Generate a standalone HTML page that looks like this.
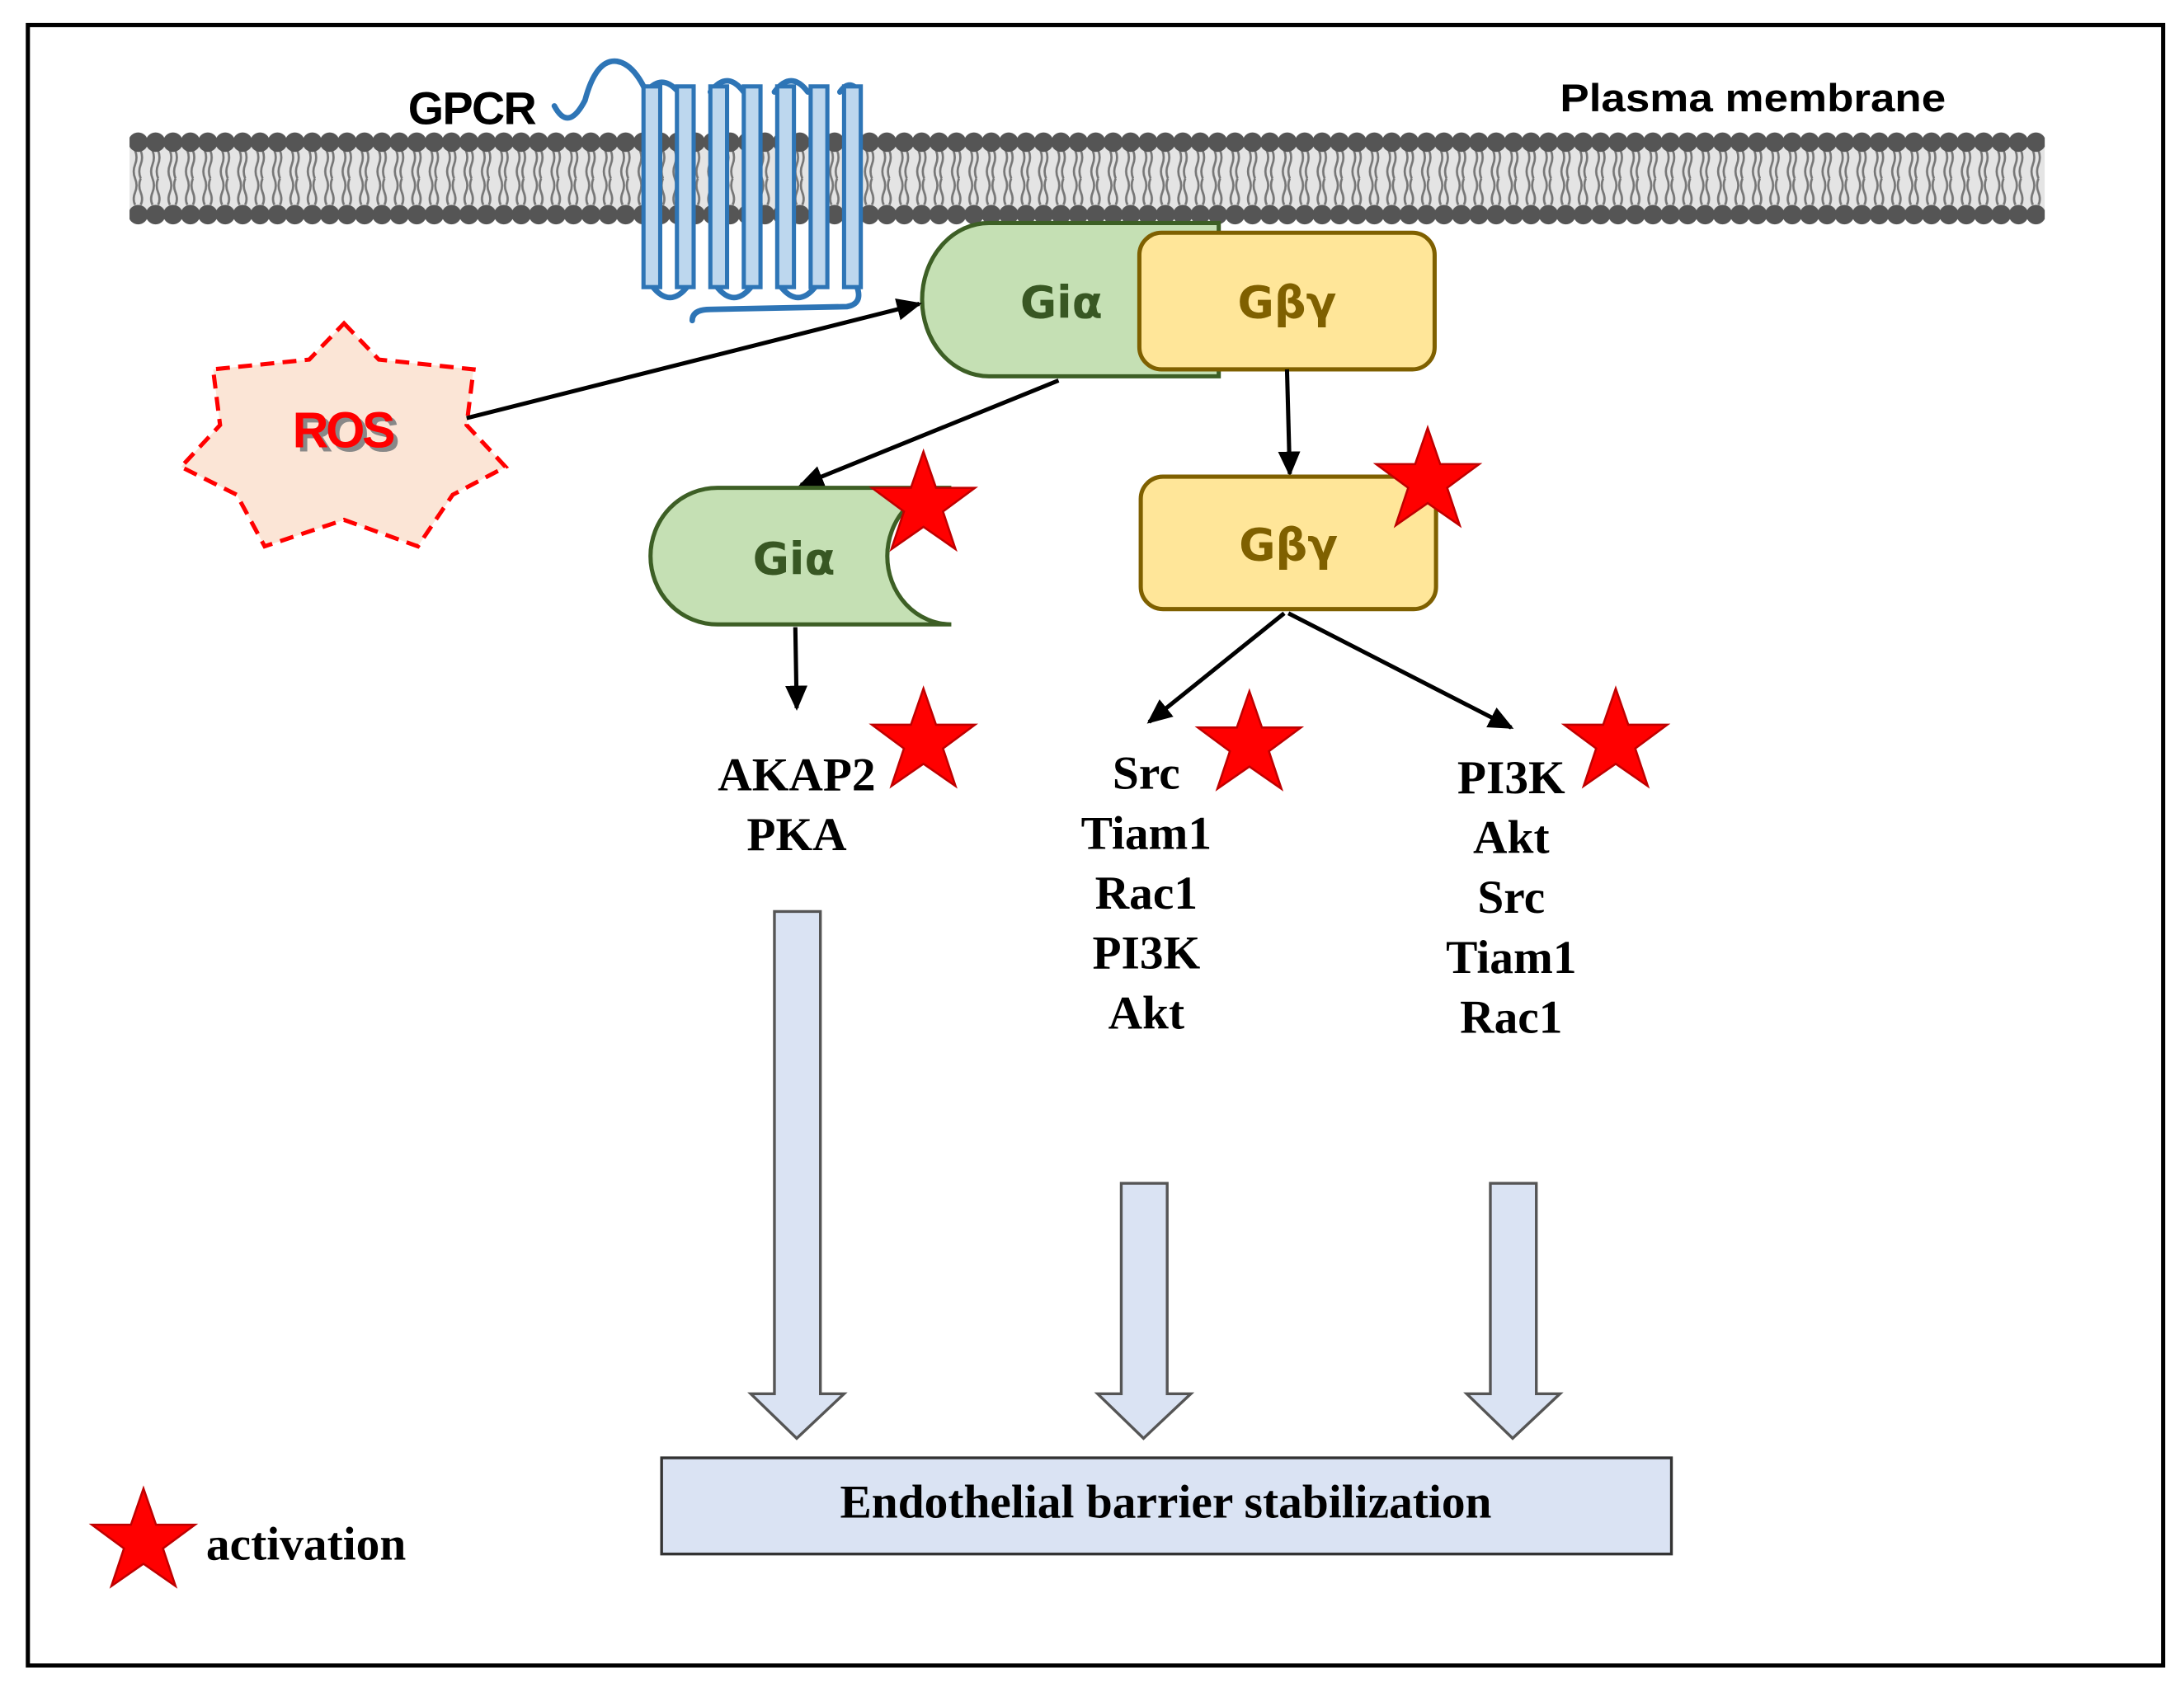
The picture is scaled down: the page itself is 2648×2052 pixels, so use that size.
<!DOCTYPE html>
<html><head><meta charset="utf-8"><style>html,body{margin:0;padding:0;background:#fff}svg{display:block}</style></head>
<body>
<svg width="2648" height="2052" viewBox="0 0 1568 1214" preserveAspectRatio="none" xmlns="http://www.w3.org/2000/svg">
<defs>
<pattern id="lip" x="93" y="0" width="12.5" height="1214" patternUnits="userSpaceOnUse">
<path d="M4,108 q2,5 0,10 q-2,5 0,10 M8,108 q2,5 0,10 q-2,5 0,10 M4,128 q2,5 0,10 q-2,5 0,9 M8,128 q-2,5 0,10 q2,5 0,9" stroke="#777" stroke-width="1.6" fill="none"/>
<circle cx="6.2" cy="102" r="7" fill="#555"/>
<circle cx="6.2" cy="154" r="7" fill="#555"/>
</pattern>
<marker id="ah2" markerWidth="18" markerHeight="18" refX="16" refY="9" orient="auto" markerUnits="userSpaceOnUse" viewBox="0 0 18 18">
<path d="M0,1 L18,9 L0,17 Z" fill="#000"/></marker>
<polygon id="star" points="0,-38 9,-12 37,-12 14,5 23,32 0,16 -23,32 -14,5 -37,-12 -9,-12" fill="#ff0000" stroke="#c00000" stroke-width="1.5"/>
</defs>
<rect x="20" y="18" width="1533" height="1177" fill="#fff" stroke="#000" stroke-width="3"/>
<rect x="93" y="100" width="1375" height="56" fill="#e4e4e4"/>
<rect x="93" y="94" width="1375" height="68" fill="url(#lip)"/>
<text x="1120" y="80" font-family="Liberation Sans, sans-serif" font-weight="bold" font-size="28" textLength="277" lengthAdjust="spacingAndGlyphs">Plasma membrane</text>
<text x="293" y="89" font-family="Liberation Sans, sans-serif" font-size="33" font-weight="bold" letter-spacing="-1">GPCR</text>
<g stroke="#2e75b6" stroke-width="4" fill="none" stroke-linecap="round">
<path d="M398,76 Q408,95 420,72 Q428,42 443,44 Q455,46 464,66"/>
<path d="M464,66 Q475,52 487,66 M510,66 Q522,50 534,66 M556,66 Q568,50 580,66 M603,66 Q610,56 617,66"/>
<path d="M468,205 Q481,222 494,205 M514,205 Q527,222 540,205 M560,205 Q573,222 586,205"/>
<path d="M615,205 Q620,218 608,220 L510,222 Q497,222 497,230"/>
</g>
<g fill="#bdd7ee" stroke="#2e75b6" stroke-width="3">
<rect x="462" y="62" width="12" height="144"/><rect x="486" y="62" width="12" height="144"/>
<rect x="510" y="62" width="12" height="144"/><rect x="534" y="62" width="12" height="144"/>
<rect x="558" y="62" width="12" height="144"/><rect x="582" y="62" width="12" height="144"/>
<rect x="606" y="62" width="12" height="144"/>
</g>
<polygon points="247,232 272,258 340,265 335,305 363,335 325,355 300,392 247,373 190,392 170,355 130,335 158,305 153,265 222,258" fill="#fbe5d6" stroke="#ff0000" stroke-width="3" stroke-dasharray="10,6"/>
<text x="249" y="324" text-anchor="middle" font-family="Liberation Sans, sans-serif" font-weight="bold" font-size="36" fill="#888" letter-spacing="-2">ROS</text>
<text x="246" y="321" text-anchor="middle" font-family="Liberation Sans, sans-serif" font-weight="bold" font-size="36" fill="#ff0000" letter-spacing="-2">ROS</text>
<path d="M710,160 L875,160 L875,270 L710,270 A48,55 0 0 1 710,160 Z" fill="#c5e0b4" stroke="#3d5f25" stroke-width="3"/>
<text x="762" y="228" text-anchor="middle" font-family="DejaVu Sans, sans-serif" font-weight="bold" font-size="32" fill="#385723">Giα</text>
<rect x="818" y="167" width="212" height="98" rx="16" fill="#ffe699" stroke="#7f6000" stroke-width="3"/>
<text x="924" y="228" text-anchor="middle" font-family="DejaVu Sans, sans-serif" font-weight="bold" font-size="32" fill="#7f6000">Gβγ</text>
<g stroke="#000" stroke-width="3" fill="none">
<line x1="335" y1="300" x2="660" y2="218" marker-end="url(#ah2)"/>
<line x1="760" y1="273" x2="575" y2="348" marker-end="url(#ah2)"/>
<line x1="924" y1="265" x2="926" y2="340" marker-end="url(#ah2)"/>
<line x1="571" y1="450" x2="572" y2="508" marker-end="url(#ah2)"/>
<line x1="922" y1="440" x2="825" y2="518" marker-end="url(#ah2)"/>
<line x1="925" y1="440" x2="1085" y2="522" marker-end="url(#ah2)"/>
</g>
<path d="M515,350 L683,350 A46,49 0 0 0 683,448 L515,448 A48,49 0 0 1 515,350 Z" fill="#c5e0b4" stroke="#3d5f25" stroke-width="3"/>
<text x="570" y="412" text-anchor="middle" font-family="DejaVu Sans, sans-serif" font-weight="bold" font-size="32" fill="#385723">Giα</text>
<rect x="819" y="342" width="212" height="95" rx="16" fill="#ffe699" stroke="#7f6000" stroke-width="3"/>
<text x="925" y="402" text-anchor="middle" font-family="DejaVu Sans, sans-serif" font-weight="bold" font-size="32" fill="#7f6000">Gβγ</text>
<use href="#star" x="663" y="362"/>
<use href="#star" x="1025" y="345"/>
<use href="#star" x="663" y="532"/>
<use href="#star" x="897" y="534"/>
<use href="#star" x="1160" y="532"/>
<use href="#star" x="103" y="1106"/>
<g font-family="Liberation Serif, serif" font-weight="bold" font-size="34" text-anchor="middle">
<text x="572" y="567">AKAP2</text><text x="572" y="610">PKA</text>
<text x="823" y="566">Src</text><text x="823" y="609">Tiam1</text><text x="823" y="652">Rac1</text><text x="823" y="695">PI3K</text><text x="823" y="738">Akt</text>
<text x="1085" y="569">PI3K</text><text x="1085" y="612">Akt</text><text x="1085" y="655">Src</text><text x="1085" y="698">Tiam1</text><text x="1085" y="741">Rac1</text>
</g>
<text x="148" y="1119" font-family="Liberation Serif, serif" font-weight="bold" font-size="34">activation</text>
<g fill="#dae3f3" stroke="#555" stroke-width="2">
<path d="M556,654 L589,654 L589,1000 L606,1000 L572,1032 L539,1000 L556,1000 Z"/>
<path d="M805,849 L838,849 L838,1000 L855,1000 L821,1032 L788,1000 L805,1000 Z"/>
<path d="M1070,849 L1103,849 L1103,1000 L1120,1000 L1086,1032 L1053,1000 L1070,1000 Z"/>
</g>
<rect x="475" y="1046" width="725" height="69" fill="#dae3f3" stroke="#333" stroke-width="2"/>
<text x="837" y="1089" text-anchor="middle" font-family="Liberation Serif, serif" font-weight="bold" font-size="34">Endothelial barrier stabilization</text>
</svg>
</body></html>
